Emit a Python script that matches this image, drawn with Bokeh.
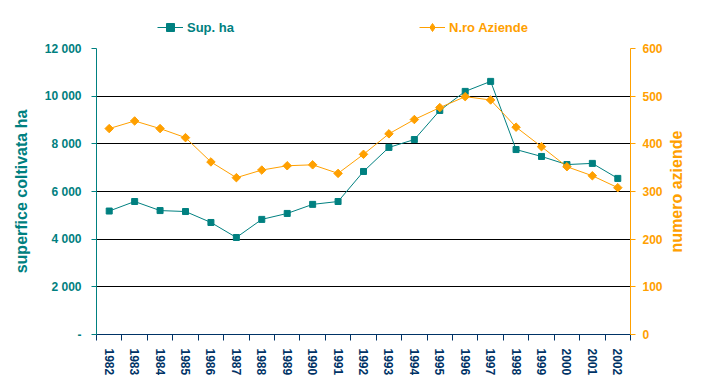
from math import pi
from bokeh.plotting import figure
from bokeh.layouts import column, row
from bokeh.models import Range1d, LinearAxis, FixedTicker, Legend, LegendItem, Label
from bokeh.embed import file_html
from bokeh.resources import INLINE

years = [str(y) for y in range(1982, 2003)]
sup_ha = [5180, 5580, 5200, 5160, 4700, 4070, 4830, 5080, 5460, 5580, 6840,
          7850, 8180, 9400, 10200, 10620, 7760, 7470, 7130, 7180, 6550]
aziende = [432, 448, 432, 413, 362, 329, 345, 354, 356, 338, 378,
           421, 451, 476, 499, 492, 435, 394, 352, 333, 308]
left_ticks = [0, 2000, 4000, 6000, 8000, 10000, 12000]
left_labels = ["-", "2 000", "4 000", "6 000", "8 000", "10 000", "12 000"]
right_ticks = [0, 100, 200, 300, 400, 500, 600]

TEAL = "#008080"
ORANGE = "#FFA000"
NAVY = "#003366"
FONT = "Liberation Sans"

xs = list(range(len(years)))

p = figure(width=666, height=342, output_backend="svg", toolbar_location=None,
           x_range=Range1d(-0.5, len(years) - 0.5), y_range=Range1d(0, 12000),
           min_border_left=96, min_border_right=36, min_border_top=8, min_border_bottom=48)
p.outline_line_color = None
p.xgrid.visible = False
p.ygrid.grid_line_color = "black"
p.ygrid.grid_line_width = 1

# x axis
xa = p.xaxis[0]
xa.ticker = FixedTicker(ticks=xs, minor_ticks=[i - 0.5 for i in range(len(years) + 1)])
xa.major_label_overrides = {i: y for i, y in zip(xs, years)}
xa.major_label_orientation = "vertical"
xa.axis_line_color = NAVY
xa.major_tick_out = 0
xa.major_tick_in = 0
xa.minor_tick_out = 6
xa.minor_tick_in = 0
xa.minor_tick_line_color = NAVY
xa.major_label_text_color = NAVY
xa.major_label_text_font = FONT
xa.major_label_text_font_size = "12px"
xa.major_label_text_font_style = "bold"
xa.major_label_standoff = 8

# left axis
ya = p.yaxis[0]
ya.ticker = FixedTicker(ticks=left_ticks)
ya.major_label_overrides = {t: l for t, l in zip(left_ticks, left_labels)}
ya.axis_line_color = TEAL
ya.major_tick_line_color = TEAL
ya.major_tick_out = 5
ya.major_tick_in = 0
ya.minor_tick_line_color = None
ya.major_label_text_color = TEAL
ya.major_label_text_font = FONT
ya.major_label_text_font_size = "12px"
ya.major_label_text_font_style = "bold"
ya.major_label_standoff = 10
ya.axis_label = "superfice coltivata ha"
ya.axis_label_text_color = TEAL
ya.axis_label_text_font = FONT
ya.axis_label_text_font_size = "16px"
ya.axis_label_text_font_style = "bold"
ya.axis_label_standoff = 12

# right axis
p.extra_y_ranges = {"az": Range1d(0, 600)}
ra = LinearAxis(y_range_name="az", ticker=FixedTicker(ticks=right_ticks))
ra.axis_line_color = ORANGE
ra.major_tick_line_color = ORANGE
ra.major_tick_out = 5
ra.major_tick_in = 0
ra.minor_tick_line_color = None
ra.major_label_text_color = ORANGE
ra.major_label_text_font = FONT
ra.major_label_text_font_size = "12px"
ra.major_label_text_font_style = "bold"
ra.major_label_standoff = 7
p.add_layout(ra, "right")

p.line(xs, sup_ha, line_color=TEAL, line_width=1)
p.scatter(xs, sup_ha, marker="square", size=6, fill_color=TEAL, line_color=TEAL)
p.line(xs, aziende, y_range_name="az", line_color=ORANGE, line_width=1)
p.scatter(xs, aziende, y_range_name="az", marker="square", angle=pi / 4, size=6,
          fill_color=ORANGE, line_color=ORANGE)

# right axis title, in a narrow strip next to the chart
side = figure(width=20, height=342, output_backend="svg", toolbar_location=None,
              x_axis_location=None, y_axis_location=None,
              min_border_left=0, min_border_right=0, min_border_top=8, min_border_bottom=48,
              x_range=Range1d(0, 1), y_range=Range1d(0, 1))
side.outline_line_color = None
side.xgrid.visible = False
side.ygrid.visible = False
side.add_layout(Label(x=0.5, y=0.5, text="numero aziende", angle=pi / 2,
                      text_align="center", text_baseline="middle",
                      text_color=ORANGE, text_font=FONT, text_font_size="16px",
                      text_font_style="bold"))

# legend strip above the chart
top = figure(width=700, height=40, output_backend="svg", toolbar_location=None,
             x_axis_location=None, y_axis_location=None,
             min_border_left=96, min_border_right=70, min_border_top=0, min_border_bottom=0,
             x_range=Range1d(-1000, -999), y_range=Range1d(-1000, -999))
top.outline_line_color = None
top.xgrid.visible = False
top.ygrid.visible = False
tl1 = top.line(xs, sup_ha, line_color=TEAL, line_width=1)
ts1 = top.scatter(xs, sup_ha, marker="square", size=6, fill_color=TEAL, line_color=TEAL)
tl2 = top.line(xs, aziende, line_color=ORANGE, line_width=1)
ts2 = top.scatter(xs, aziende, marker="diamond", size=9,
                  fill_color=ORANGE, line_color=ORANGE)


def mk_legend(label, rends, color, loc):
    lg = Legend(items=[LegendItem(label=label, renderers=rends)], location=loc)
    lg.label_text_font = FONT
    lg.label_text_font_size = "13px"
    lg.label_text_font_style = "bold"
    lg.label_text_color = color
    lg.glyph_width = 26
    lg.glyph_height = 20
    lg.label_height = 20
    lg.label_standoff = 4
    lg.padding = 0
    lg.margin = 0
    lg.border_line_color = None
    lg.background_fill_alpha = 0
    return lg


top.add_layout(mk_legend("Sup. ha", [tl1, ts1], TEAL, (61, 3)))
top.add_layout(mk_legend("N.ro Aziende", [tl2, ts2], ORANGE, (323, 3)))

layout = column(top, row(p, side, spacing=0), spacing=0)
open("out.html", "w").write(file_html(layout, INLINE))
